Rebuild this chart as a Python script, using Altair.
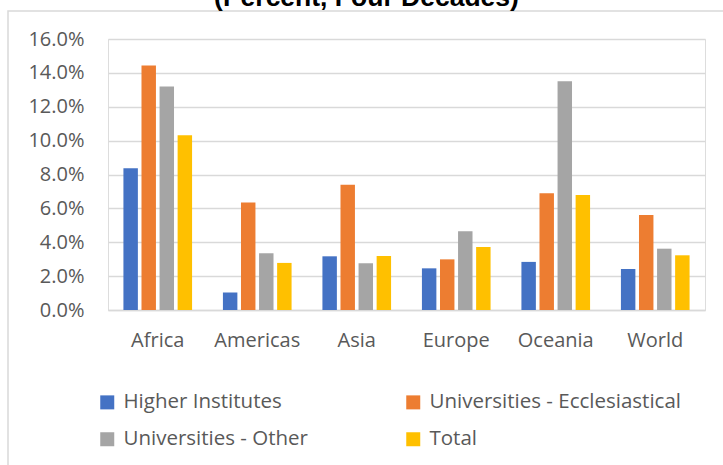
import altair as alt
import pandas as pd

TITLE = "(Percent, Four Decades)"
regions = ["Africa", "Americas", "Asia", "Europe", "Oceania", "World"]
series = ["Higher Institutes", "Universities - Ecclesiastical", "Universities - Other", "Total"]
legend_order = ["Higher Institutes", "Universities - Other", "Universities - Ecclesiastical", "Total"]
colors = ["#4472C4", "#ED7D31", "#A5A5A5", "#FFC000"]
higher = [8.37, 1.04, 3.17, 2.46, 2.84, 2.42]
eccles = [14.43, 6.34, 7.40, 2.99, 6.89, 5.61]
other = [13.19, 3.35, 2.76, 4.65, 13.51, 3.62]
total = [10.32, 2.78, 3.19, 3.72, 6.79, 3.23]
y_ticks = [0, 2, 4, 6, 8, 10, 12, 14, 16]

rows = []
for name, vals in zip(series, [higher, eccles, other, total]):
    for r, v in zip(regions, vals):
        rows.append({"region": r, "series": name, "value": v / 100})
df = pd.DataFrame(rows)

FONT = "Open Sans"
GRAY = "#595959"

bars = alt.Chart(df).mark_bar().encode(
    x=alt.X("region:N", sort=regions, title=None,
            scale=alt.Scale(paddingInner=0.31, paddingOuter=0.155),
            axis=alt.Axis(labelAngle=0, labelFont=FONT, labelFontSize=20, labelColor=GRAY,
                          labelPadding=20, ticks=False, domain=True, domainColor="#d9d9d9",
                          domainWidth=1.5, grid=False)),
    xOffset=alt.XOffset("series:N", sort=series,
                        scale=alt.Scale(paddingInner=0.2, paddingOuter=0)),
    y=alt.Y("value:Q", title=None,
            scale=alt.Scale(domain=[0, 0.16], nice=False),
            axis=alt.Axis(values=[t / 100 for t in y_ticks], format=".1%", labelFont=FONT,
                          labelFontSize=20, labelColor=GRAY, labelPadding=24, ticks=False,
                          domain=False, grid=True, gridColor="#d9d9d9", gridWidth=1.5)),
    color=alt.Color("series:N", sort=series,
                    scale=alt.Scale(domain=series, range=colors),
                    legend=alt.Legend(title=None, orient="none", legendX=-11, legendY=353,
                                      columns=2, columnPadding=95, rowPadding=16,
                                      values=legend_order,
                                      symbolType="square", symbolSize=196, symbolStrokeWidth=0,
                                      labelFont=FONT, labelFontSize=20.5, labelColor=GRAY,
                                      labelOffset=6, labelLimit=0)),
)

frame = alt.Chart(alt.Data(values=[{"a": 1}])).mark_rect(
    fill=None, stroke="#d9d9d9", strokeWidth=1.5
).encode(x=alt.value(-100), x2=alt.value(640), y=alt.value(-28), y2=alt.value(450))

title = alt.Chart(alt.Data(values=[{"t": TITLE}])).mark_text(
    font="Liberation Sans", fontSize=26.5, fontWeight="bold", color="#000000",
    align="center", baseline="alphabetic"
).encode(x=alt.value(258.5), y=alt.value(-33.5), text="t:N")

chart = alt.layer(frame, bars, title).properties(
    width=597, height=271,
    padding={"left": 108, "top": 39, "right": 18, "bottom": 155},
    autosize=alt.AutoSizeParams(type="none"),
).configure_view(stroke=None).configure(background="white")

chart.save("out.html", embed_options={"renderer": "svg", "actions": False})
